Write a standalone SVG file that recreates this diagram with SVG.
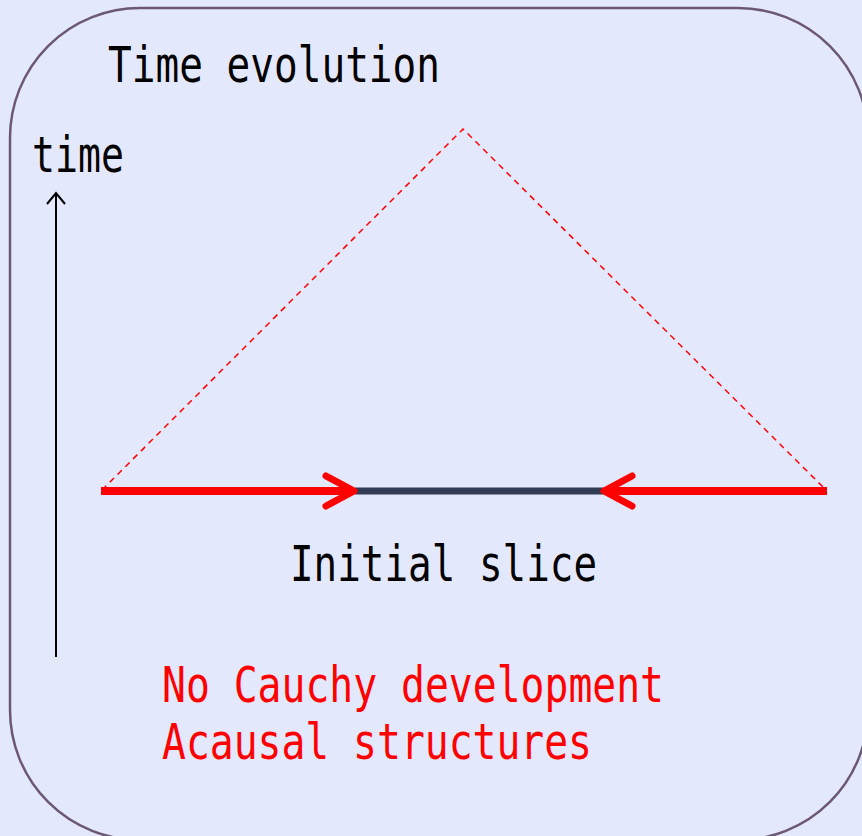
<svg xmlns="http://www.w3.org/2000/svg" width="862" height="836" viewBox="0 0 862 836">
<defs>
<style>
.t{font-family:"DejaVu Sans Mono","Liberation Mono",monospace;font-size:50px;}
.blk{fill:#000000;}
.red{fill:#ff0000;}
</style>
</defs>
<rect x="0" y="0" width="862" height="836" fill="#e4e8fc"/>
<g id="frame">
<rect x="10" y="8" width="858" height="832" rx="130" ry="130" fill="#e4e8fc" stroke="#6b5876" stroke-width="2.5"/>
</g>
<g id="title"><text class="t blk" x="108" y="82" textLength="332" lengthAdjust="spacingAndGlyphs">Time evolution</text></g>
<g id="time-label"><text class="t blk" x="32" y="172" textLength="92" lengthAdjust="spacingAndGlyphs">time</text></g>
<g id="initial-label"><text class="t blk" x="290" y="581" textLength="307" lengthAdjust="spacingAndGlyphs">Initial slice</text></g>
<g id="notes">
<text class="t red" x="162" y="702" textLength="502" lengthAdjust="spacingAndGlyphs">No Cauchy development</text>
<text class="t red" x="162" y="759" textLength="430" lengthAdjust="spacingAndGlyphs">Acausal structures</text>
</g>
<g id="connectors">
<line x1="56" y1="657" x2="56" y2="193" stroke="#000" stroke-width="2"/>
<path d="M47,204 L56,193 L65,204" fill="none" stroke="#000" stroke-width="2"/>
<path d="M102,490 L463,129 L826,490" fill="none" stroke="#ff0000" stroke-width="1.5" stroke-dasharray="6,5"/>
<line x1="355" y1="491" x2="604" y2="491" stroke="#323c54" stroke-width="7"/>
<line x1="101" y1="491" x2="352" y2="491" stroke="#ff0000" stroke-width="8"/>
<path d="M326,476 L354,491 L326,506" fill="none" stroke="#ff0000" stroke-width="7" stroke-linecap="round" stroke-linejoin="round"/>
<line x1="606" y1="491" x2="827" y2="491" stroke="#ff0000" stroke-width="8"/>
<path d="M632,476 L604,491 L632,506" fill="none" stroke="#ff0000" stroke-width="7" stroke-linecap="round" stroke-linejoin="round"/>
</g>
</svg>
